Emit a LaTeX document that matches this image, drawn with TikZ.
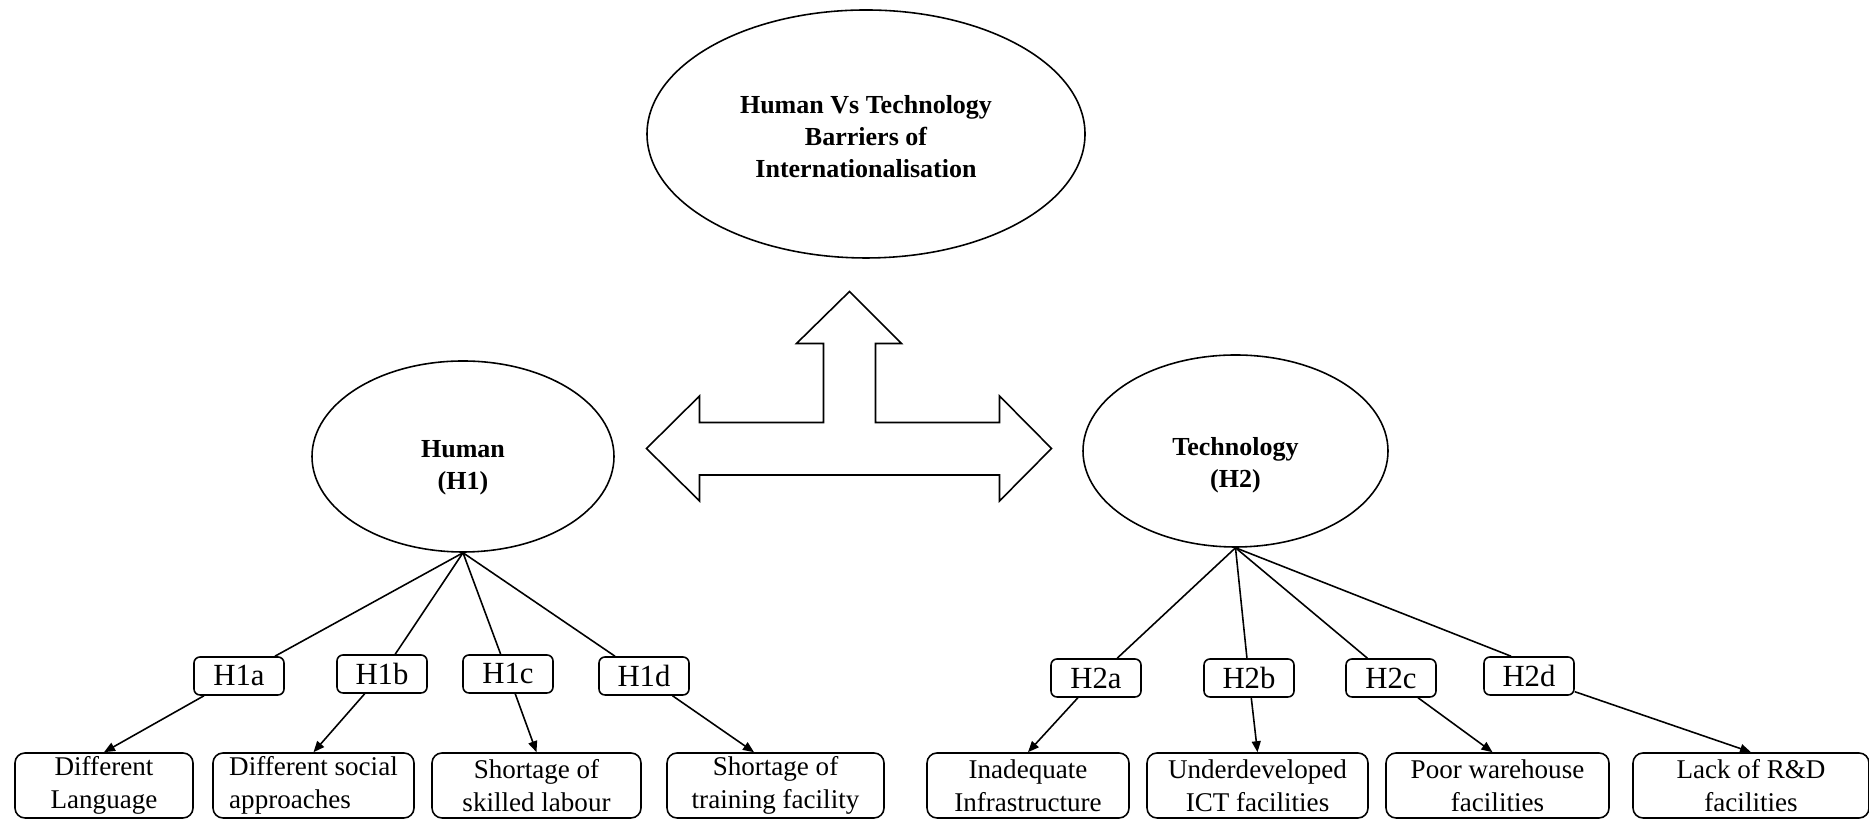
\documentclass[tikz,border=0pt]{standalone}
\usepackage{fontspec}
\setmainfont{Liberation Serif}
\usetikzlibrary{shapes.geometric,arrows.meta}

\begin{document}
\begin{tikzpicture}[line width=0.9pt,
    >={Triangle[length=0.22cm,width=0.18cm]},
    oval/.style={draw, ellipse, inner sep=0pt},
    ovaltext/.style={align=center, inner sep=0pt,
        font=\fontsize{14.8}{18.2}\selectfont\bfseries},
    hyp/.style={draw, rounded corners=0.12cm, minimum width=1.8cm,
        minimum height=0.76cm, inner sep=0pt,
        font=\fontsize{17.5}{21}\selectfont},
    barrier/.style={draw, rounded corners=0.2cm, minimum height=1.3cm,
        inner sep=0pt, align=center,
        font=\fontsize{15.4}{18.8}\selectfont}]
    \useasboundingbox (0,0) rectangle (37.38,16.38);

    % ellipses
    \node[oval, minimum width=8.76cm, minimum height=4.96cm]
    (top) at (17.32,13.70) {};
    \node[ovaltext] (toptext) at ([yshift=-0.06cm]top.center)
    {Human Vs Technology\\Barriers of\\Internationalisation};
    \node[oval, minimum width=6.04cm, minimum height=3.82cm]
    (human) at (9.26,7.25) {};
    \node[ovaltext] (humantext) at ([yshift=-0.22cm]human.center) {Human\\(H1)};
    \node[oval, minimum width=6.1cm, minimum height=3.84cm]
    (tech) at (24.71,7.36) {};
    \node[ovaltext] (techtext) at ([yshift=-0.28cm]tech.center) {Technology\\(H2)};

    % three-way block arrow
    \draw[fill=white] (16.99,10.55) -- (18.03,9.51) -- (17.51,9.51)
    -- (17.51,7.93) -- (19.99,7.93) -- (19.99,8.46)
    -- (21.03,7.41) -- (19.99,6.36) -- (19.99,6.88)
    -- (13.99,6.88) -- (13.99,6.36) -- (12.93,7.41)
    -- (13.99,8.46) -- (13.99,7.93) -- (16.47,7.93)
    -- (16.47,9.51) -- (15.93,9.51) -- cycle;

    % hypotheses
    \node[hyp] (h1a) at (4.78,2.86) {H1a};
    \node[hyp] (h1b) at (7.64,2.90) {H1b};
    \node[hyp] (h1c) at (10.16,2.90) {H1c};
    \node[hyp] (h1d) at (12.88,2.86) {H1d};
    \node[hyp] (h2a) at (21.92,2.82) {H2a};
    \node[hyp] (h2b) at (24.98,2.82) {H2b};
    \node[hyp] (h2c) at (27.82,2.82) {H2c};
    \node[hyp] (h2d) at (30.58,2.86) {H2d};

    % barriers
    \node[barrier, minimum width=3.56cm] (lang) at (2.08,0.67) {Different\\Language};
    \node[barrier, minimum width=4.02cm, align=left] (social) at (6.27,0.67)
    {Different social\\approaches};
    \node[barrier, minimum width=4.18cm] (skill) at (10.73,0.67) {Shortage of\\skilled labour};
    \node[barrier, minimum width=4.34cm] (train) at (15.51,0.67)
    {Shortage of\\training facility};
    \node[barrier, minimum width=4.04cm] (infra) at (20.56,0.67) {Inadequate\\Infrastructure};
    \node[barrier, minimum width=4.42cm] (ict) at (25.15,0.67) {Underdeveloped\\ICT facilities};
    \node[barrier, minimum width=4.46cm] (ware) at (29.95,0.67) {Poor warehouse\\facilities};
    \node[barrier, minimum width=4.72cm] (rnd) at (35.02,0.67) {Lack of R\&D\\facilities};

    \draw (human.south) -- (h1a);
    \draw (human.south) -- (h1b);
    \draw (human.south) -- (h1c);
    \draw (human.south) -- (h1d);
    \draw (tech.south) -- (h2a);
    \draw (tech.south) -- (h2b);
    \draw (tech.south) -- (h2c);
    \draw (tech.south) -- ([xshift=-0.36cm]h2d.north);

    \draw[->] (h1a) -- (lang.north);
    \draw[->] (h1b) -- (social.north);
    \draw[->] (h1c) -- (skill.north);
    \draw[->] (h1d) -- ([xshift=-0.43cm]train.north);
    \draw[->] (h2a) -- (infra.north);
    \draw[->] (h2b) -- (ict.north);
    \draw[->] (h2c) -- ([xshift=-0.1cm]ware.north);
    \draw[->] (h2d) -- (rnd.north);
\end{tikzpicture}
\end{document}
